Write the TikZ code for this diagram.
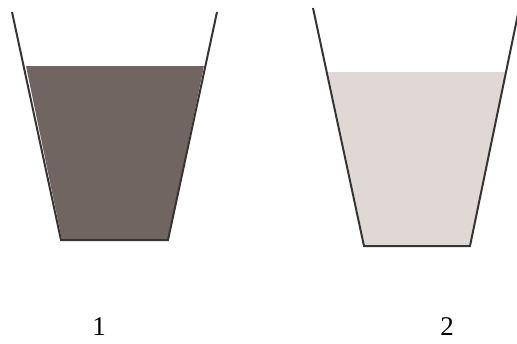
\documentclass[tikz,border=0pt]{standalone}
\usepackage{fontspec}
\setmainfont{Liberation Serif}
\usepackage{xcolor}
\usepackage{tikz}

\definecolor{darkliquid}{RGB}{112,101,96}
\definecolor{lightliquid}{RGB}{224,216,213}
\definecolor{cupline}{RGB}{55,52,50}

\begin{document}
\begin{tikzpicture}[
    x=1pt, y=-1pt,
    cup/.style={draw=cupline, line width=2pt, line join=miter},
    liquid/.style={draw=none},
    label/.style={font=\fontsize{27}{32}\selectfont, inner sep=0pt}
]
\useasboundingbox (0,0) rectangle (517,343);

% cup 1, dark liquid
\fill[liquid, darkliquid] (26,66) -- (204,66) -- (168,240) -- (62,240) -- cycle;
\draw[cup] (12,12) -- (61,240) -- (168,240) -- (217,12);

% cup 2, light liquid
\fill[liquid, lightliquid] (328,72) -- (506,72) -- (470,246) -- (365,246) -- cycle;
\draw[cup] (313,8) -- (364,246) -- (470,246) -- (518,14);

\node[label] (one) at (99,327) {1};
\node[label] (two) at (447,327) {2};

\end{tikzpicture}
\end{document}
